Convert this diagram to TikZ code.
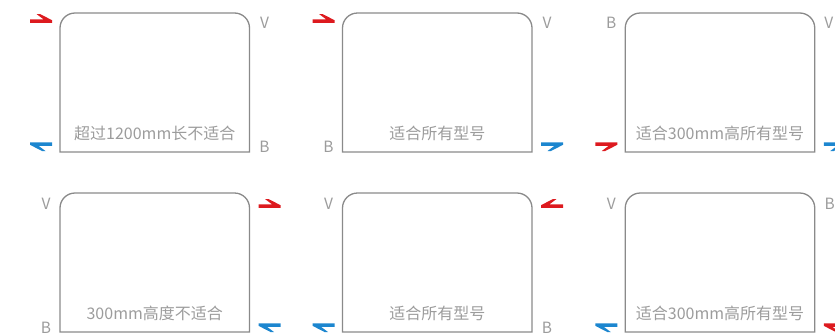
\documentclass[tikz,border=0pt]{standalone}
\usepackage{fontspec}
\setmainfont{Noto Sans CJK SC}
\usetikzlibrary{positioning}
\definecolor{framegray}{HTML}{8A8A8A}
\definecolor{textgray}{HTML}{9C9C9C}
\definecolor{hotred}{HTML}{DD1A1F}
\definecolor{coldblue}{HTML}{1C86CF}
\tikzset{
  tank/.style={minimum width=189.5pt,minimum height=139pt,inner sep=0pt,outer sep=0pt},
  frame/.style={draw=framegray,line width=1.3pt},
  note/.style={text=textgray,font=\fontsize{16}{16}\selectfont,inner sep=0pt},
  port/.style={text=textgray,font=\fontsize{15.5}{15.5}\selectfont,inner sep=0pt},
  flow/.pic={\fill (-11,-1.75) -- (11,-1.75) -- (11,0.8) -- (-1,7) -- (-4.5,7) -- (2.5,1.75) -- (-11,1.75) -- cycle;}
}
\begin{document}
\begin{tikzpicture}[x=1pt,y=1pt]
	\useasboundingbox (0,0) rectangle (835,-335);
% tanks
	\node[tank] (t1) at (154.75,-82.5) {};
	\node[tank] (t2) at (437.25,-82.5) {};
	\node[tank] (t3) at (720,-82.5) {};
	\node[tank] (t4) at (154.75,-262.5) {};
	\node[tank] (t5) at (437.25,-262.5) {};
	\node[tank] (t6) at (720,-262.5) {};

	\draw[frame] (t1.south west) -- ([yshift=-15pt]t1.north west) arc[start angle=180,end angle=90,radius=15pt] -- ([xshift=-15pt]t1.north east) arc[start angle=90,end angle=0,radius=15pt] -- (t1.south east) -- cycle;
	\draw[frame] (t2.south west) -- ([yshift=-15pt]t2.north west) arc[start angle=180,end angle=90,radius=15pt] -- ([xshift=-15pt]t2.north east) arc[start angle=90,end angle=0,radius=15pt] -- (t2.south east) -- cycle;
	\draw[frame] (t3.south west) -- ([yshift=-15pt]t3.north west) arc[start angle=180,end angle=90,radius=15pt] -- ([xshift=-15pt]t3.north east) arc[start angle=90,end angle=0,radius=15pt] -- (t3.south east) -- cycle;
	\draw[frame] (t4.south west) -- ([yshift=-15pt]t4.north west) arc[start angle=180,end angle=90,radius=15pt] -- ([xshift=-15pt]t4.north east) arc[start angle=90,end angle=0,radius=15pt] -- (t4.south east) -- cycle;
	\draw[frame] (t5.south west) -- ([yshift=-15pt]t5.north west) arc[start angle=180,end angle=90,radius=15pt] -- ([xshift=-15pt]t5.north east) arc[start angle=90,end angle=0,radius=15pt] -- (t5.south east) -- cycle;
	\draw[frame] (t6.south west) -- ([yshift=-15pt]t6.north west) arc[start angle=180,end angle=90,radius=15pt] -- ([xshift=-15pt]t6.north east) arc[start angle=90,end angle=0,radius=15pt] -- (t6.south east) -- cycle;

% notes
	\node[note,above=11pt of t1.south] (n1) {超过1200mm长不适合};
	\node[note,above=11pt of t2.south] (n2) {适合所有型号};
	\node[note,above=11pt of t3.south] (n3) {适合300mm高所有型号};
	\node[note,above=11pt of t4.south] (n4) {300mm高度不适合};
	\node[note,above=11pt of t5.south] (n5) {适合所有型号};
	\node[note,above=11pt of t6.south] (n6) {适合300mm高所有型号};

% ports
	\node[port] (v1) at ([xshift=15pt,yshift=-10pt]t1.north east) {V};
	\node[port] (b1) at ([xshift=15pt,yshift=5pt]t1.south east) {B};
	\node[port] (v2) at ([xshift=15pt,yshift=-10pt]t2.north east) {V};
	\node[port] (b2) at ([xshift=-14pt,yshift=5pt]t2.south west) {B};
	\node[port] (b3) at ([xshift=-14pt,yshift=-10pt]t3.north west) {B};
	\node[port] (v3) at ([xshift=14pt,yshift=-10pt]t3.north east) {V};
	\node[port] (v4) at ([xshift=-14pt,yshift=-11pt]t4.north west) {V};
	\node[port] (b4) at ([xshift=-14pt,yshift=4pt]t4.south west) {B};
	\node[port] (v5) at ([xshift=-14pt,yshift=-11pt]t5.north west) {V};
	\node[port] (b5) at ([xshift=15pt,yshift=4pt]t5.south east) {B};
	\node[port] (v6) at ([xshift=-14pt,yshift=-11pt]t6.north west) {V};
	\node[port] (b6) at ([xshift=15pt,yshift=-11pt]t6.north east) {B};

% flows
	\pic[hotred] at ([xshift=-19pt,yshift=-8pt]t1.north west) {flow};
	\pic[coldblue,xscale=-1,yscale=-1] at ([xshift=-19pt,yshift=8pt]t1.south west) {flow};
	\pic[hotred] at ([xshift=-19pt,yshift=-8pt]t2.north west) {flow};
	\pic[coldblue,yscale=-1] at ([xshift=20pt,yshift=8pt]t2.south east) {flow};
	\pic[hotred,yscale=-1] at ([xshift=-19pt,yshift=8pt]t3.south west) {flow};
	\pic[coldblue,yscale=-1] at ([xshift=20pt,yshift=8pt]t3.south east) {flow};
	\pic[hotred] at ([xshift=20pt,yshift=-13pt]t4.north east) {flow};
	\pic[coldblue,xscale=-1,yscale=-1] at ([xshift=20pt,yshift=7pt]t4.south east) {flow};
	\pic[hotred,xscale=-1] at ([xshift=20pt,yshift=-13pt]t5.north east) {flow};
	\pic[coldblue,xscale=-1,yscale=-1] at ([xshift=-19pt,yshift=7pt]t5.south west) {flow};
	\pic[coldblue,xscale=-1,yscale=-1] at ([xshift=-19pt,yshift=7pt]t6.south west) {flow};
	\pic[hotred,xscale=-1,yscale=-1] at ([xshift=20pt,yshift=7pt]t6.south east) {flow};
\end{tikzpicture}
\end{document}
